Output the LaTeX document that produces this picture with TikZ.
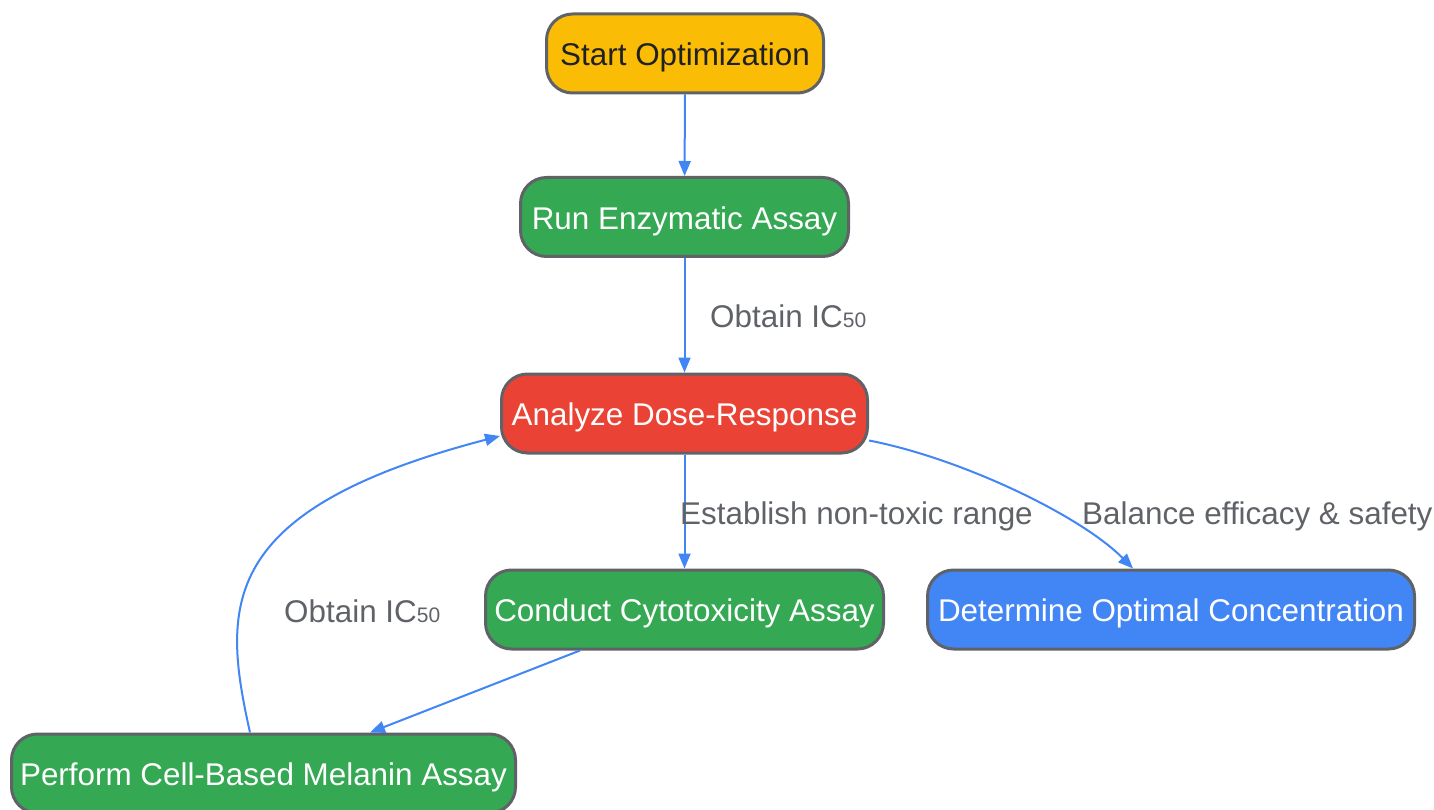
\documentclass[tikz,border=0pt]{standalone}
\usepackage{fontspec}
\setmainfont{Liberation Sans}
\usetikzlibrary{arrows.meta,calc}
\definecolor{cyel}{HTML}{FBBC05}
\definecolor{cgrn}{HTML}{34A853}
\definecolor{cred}{HTML}{EA4335}
\definecolor{cblu}{HTML}{4285F4}
\definecolor{cbord}{HTML}{5F6368}
\definecolor{clab}{HTML}{5F6368}
\definecolor{cdark}{HTML}{202124}
\begin{document}
\begin{tikzpicture}[x=1pt,y=-1pt,
 box/.style={draw=cbord, line width=3pt, rounded corners=26pt, minimum height=79pt, inner sep=0pt,
   text height=24.5pt, text depth=0pt, text=white, font=\fontsize{31.4}{37}\selectfont},
 edge/.style={draw=cblu, line width=2pt, -{Triangle[length=15pt,width=12pt]}},
 lab/.style={text=clab, font=\fontsize{31.4}{37}\selectfont, inner sep=0pt, anchor=base west}]
\useasboundingbox (0,0) rectangle (1434,810);
\node[box, fill=cyel, text=cdark, minimum width=277pt] (start) at (685,53.5) {Start Optimization};
\node[box, fill=cgrn, minimum width=328pt] (run) at (684.5,217) {Run Enzymatic Assay};
\node[box, fill=cred, minimum width=366pt] (ana) at (684.5,413.5) {Analyze Dose-Response};
\node[box, fill=cgrn, minimum width=398pt] (cyt) at (684.5,609.5) {Conduct Cytotoxicity Assay};
\node[box, fill=cblu, minimum width=487pt] (opt) at (1171,609.5) {Determine Optimal Concentration};
\node[box, fill=cgrn, minimum width=504pt] (mel) at (263.5,773.5) {Perform Cell-Based Melanin Assay};
\draw[edge] (start) -- (run);
\draw[edge] (run) -- (ana);
\draw[edge] (ana) -- (cyt);
\draw[edge] ($(ana.south east)+(0,-14)$) .. controls (960,458) and (1080,515) .. ($(opt.north west)+(207,0)$);
\draw[edge] ($(cyt.south)+(-104.5,0)$) -- ($(mel.north)+(106.5,0)$);
\draw[edge] ($(mel.north)+(-13.5,0)$) .. controls (222,607) and (216,510) .. ($(ana.west)+(0,22.5)$);
\node[lab] (l1) at (710,327) {Obtain IC{\fontsize{21}{22}\selectfont 50}};
\node[lab] (l2) at (680,524) {Establish non-toxic range};
\node[lab] (l3) at (1082,524) {Balance efficacy \& safety};
\node[lab] (l4) at (284,622) {Obtain IC{\fontsize{21}{22}\selectfont 50}};
\end{tikzpicture}
\end{document}
